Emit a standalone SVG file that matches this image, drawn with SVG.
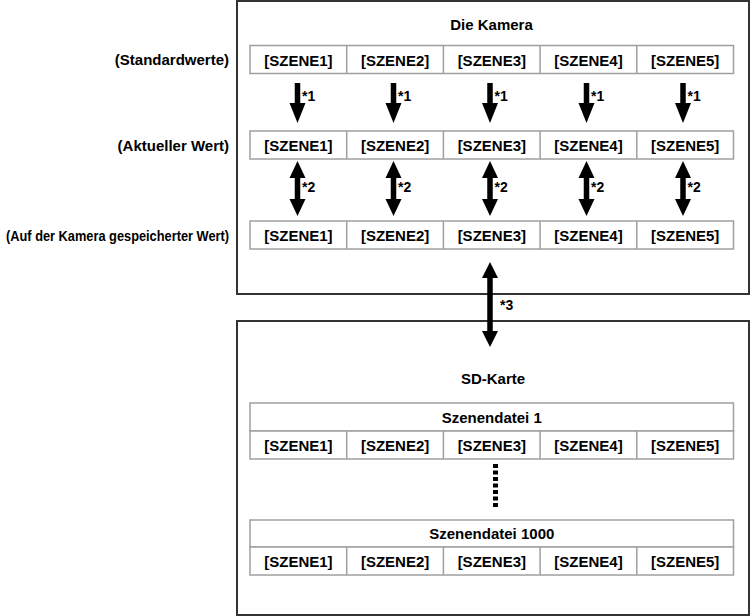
<svg xmlns="http://www.w3.org/2000/svg" xmlns:xlink="http://www.w3.org/1999/xlink" width="752" height="616" viewBox="0 0 752 616">
<style>
text{font-family:"Liberation Sans",Arial,sans-serif;font-weight:bold;fill:#000;}
.t{font-size:15px;text-anchor:middle;}
.lab{font-size:15px;text-anchor:end;}
.n{font-size:14px;}
.box{fill:#fff;stroke:#333;stroke-width:2;}
.cell{fill:#fff;stroke:#a0a0a0;stroke-width:1.5;}
.div{stroke:#a0a0a0;stroke-width:1.5;}
.arr{fill:#000;}
</style>
<defs>
<path id="a1" class="arr" d="M-2.75,0 H2.75 V20 H8 L0,40 L-8,20 H-2.75 Z"/>
<path id="a2" class="arr" d="M0,0 L8,17 H2.75 V38 H8 L0,55 L-8,38 H-2.75 V17 H-8 Z"/>
<g id="row">
<rect class="cell" x="250" y="0" width="483.5" height="28"/>
<line class="div" x1="346.7" y1="0" x2="346.7" y2="28"/>
<line class="div" x1="443.4" y1="0" x2="443.4" y2="28"/>
<line class="div" x1="540.1" y1="0" x2="540.1" y2="28"/>
<line class="div" x1="636.8" y1="0" x2="636.8" y2="28"/>
<text class="t" x="298.4" y="20">[SZENE1]</text>
<text class="t" x="395.1" y="20">[SZENE2]</text>
<text class="t" x="491.8" y="20">[SZENE3]</text>
<text class="t" x="588.5" y="20">[SZENE4]</text>
<text class="t" x="685.2" y="20">[SZENE5]</text>
</g>
</defs>

<g id="camera">
<rect class="box" x="237" y="1" width="512" height="293"/>
<text class="t" x="491.5" y="30">Die Kamera</text>
</g>

<g id="standard">
<text class="lab" x="229" y="65">(Standardwerte)</text>
<use xlink:href="#row" transform="translate(0,45.5)"/>
</g>
<g id="current">
<text class="lab" x="229" y="151">(Aktueller Wert)</text>
<use xlink:href="#row" transform="translate(0,131)"/>
</g>
<g id="stored">
<text class="lab" x="229" y="241" textLength="223" lengthAdjust="spacingAndGlyphs">(Auf der Kamera gespeicherter Wert)</text>
<use xlink:href="#row" transform="translate(0,221)"/>
</g>

<g id="sdcard">
<rect class="box" x="237" y="321" width="512" height="294"/>
<text class="t" x="493" y="384">SD-Karte</text>
</g>

<g id="file1">
<rect class="cell" x="250" y="403" width="483.5" height="28"/>
<text class="t" x="491.8" y="423">Szenendatei 1</text>
<use xlink:href="#row" transform="translate(0,431)"/>
</g>

<g id="file1000">
<rect class="cell" x="250" y="520" width="483.5" height="27"/>
<text class="t" x="491.8" y="539">Szenendatei 1000</text>
<use xlink:href="#row" transform="translate(0,547)"/>
</g>

<g id="connectors">
<use xlink:href="#a1" x="297.5" y="83"/>
<use xlink:href="#a1" x="393.5" y="83"/>
<use xlink:href="#a1" x="490" y="83"/>
<use xlink:href="#a1" x="586.5" y="83"/>
<use xlink:href="#a1" x="683" y="83"/>
<text class="n" x="302" y="101">*1</text>
<text class="n" x="398" y="101">*1</text>
<text class="n" x="494.5" y="101">*1</text>
<text class="n" x="591" y="101">*1</text>
<text class="n" x="687.5" y="101">*1</text>

<use xlink:href="#a2" x="297.5" y="161"/>
<use xlink:href="#a2" x="393.5" y="161"/>
<use xlink:href="#a2" x="490" y="161"/>
<use xlink:href="#a2" x="586.5" y="161"/>
<use xlink:href="#a2" x="683" y="161"/>
<text class="n" x="302" y="192">*2</text>
<text class="n" x="398" y="192">*2</text>
<text class="n" x="494.5" y="192">*2</text>
<text class="n" x="591" y="192">*2</text>
<text class="n" x="687.5" y="192">*2</text>

<path class="arr" d="M490,262 L498,278 H492.75 V331 H498 L490,347 L482,331 H487.25 V278 H482 Z"/>
<text class="n" x="500" y="310">*3</text>

<line x1="495.5" y1="464" x2="495.5" y2="509" stroke="#000" stroke-width="5" stroke-dasharray="4 2.5"/>
</g>
</svg>
